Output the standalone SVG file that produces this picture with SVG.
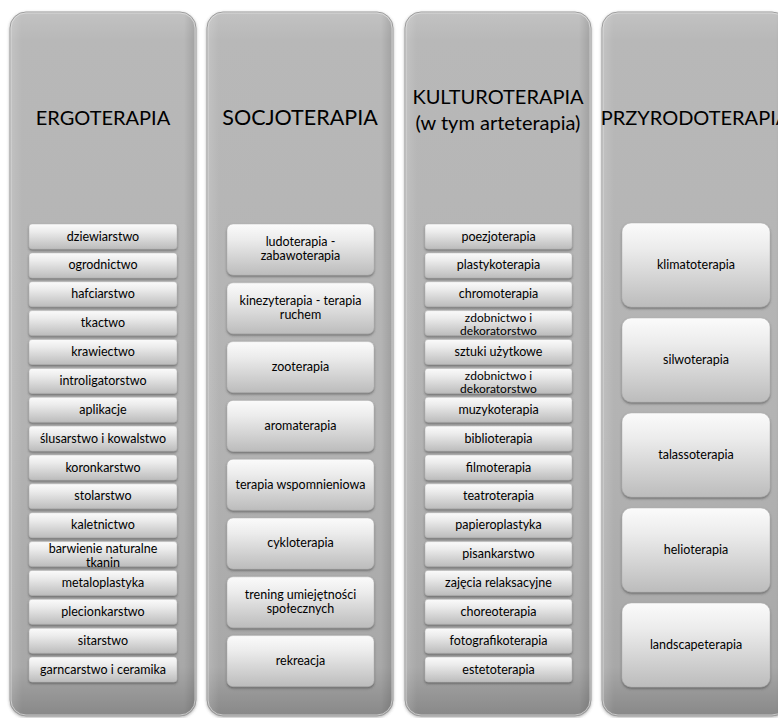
<svg xmlns="http://www.w3.org/2000/svg" width="778" height="718" viewBox="0 0 778 718">
<defs>
<linearGradient id="colGrad" x1="0" y1="0" x2="0" y2="1">
<stop offset="0" stop-color="#c2c2c2"/>
<stop offset="0.04" stop-color="#b8b8b8"/>
<stop offset="0.6" stop-color="#b3b3b3"/>
<stop offset="0.93" stop-color="#a8a8a8"/>
<stop offset="1" stop-color="#888888"/>
</linearGradient>
<linearGradient id="colSide" x1="0" y1="0" x2="1" y2="0">
<stop offset="0" stop-color="#ffffff" stop-opacity="0.15"/>
<stop offset="0.06" stop-color="#ffffff" stop-opacity="0"/>
<stop offset="0.94" stop-color="#000000" stop-opacity="0"/>
<stop offset="1" stop-color="#000000" stop-opacity="0.12"/>
</linearGradient>
<linearGradient id="boxGrad" x1="0" y1="0" x2="0" y2="1">
<stop offset="0" stop-color="#fbfbfb"/>
<stop offset="0.3" stop-color="#ececec"/>
<stop offset="1" stop-color="#bcbcbc"/>
</linearGradient>
<filter id="shadow" x="-10%" y="-20%" width="120%" height="150%">
<feDropShadow dx="0" dy="1.5" stdDeviation="1" flood-color="#3a3a3a" flood-opacity="0.6"/>
</filter>
<filter id="colShadow" x="-5%" y="-2%" width="110%" height="104%">
<feDropShadow dx="0" dy="1" stdDeviation="1.5" flood-color="#555555" flood-opacity="0.45"/>
</filter>
</defs>
<style>
.col{fill:url(#colGrad);stroke:#9c9c9c;stroke-width:1;filter:url(#colShadow)}
.colhl{fill:url(#colSide);stroke:#e2e2e2;stroke-opacity:0.7;stroke-width:1}
.box{fill:url(#boxGrad);stroke:#b0b0b0;stroke-width:0.5;filter:url(#shadow)}
.hdr{font-family:Lato,"Liberation Sans",sans-serif;font-size:20px;fill:#000;text-anchor:middle}
.lbl{font-family:Lato,"Liberation Sans",sans-serif;font-size:12.5px;fill:#000;text-anchor:middle}
</style>
<rect width="778" height="718" fill="#ffffff"/>

<g id="col-ergoterapia">
<rect class="col" x="10" y="12" width="186" height="704" rx="16"/>
<rect class="colhl" x="11" y="13" width="184" height="702" rx="15"/>
<text class="hdr" x="103" y="125">ERGOTERAPIA</text>
</g>
<g id="col-socjoterapia">
<rect class="col" x="207" y="12" width="186" height="704" rx="16"/>
<rect class="colhl" x="208" y="13" width="184" height="702" rx="15"/>
<text class="hdr" x="300" y="125" style="font-size:21.5px">SOCJOTERAPIA</text>
</g>
<g id="col-kulturoterapia">
<rect class="col" x="405" y="12" width="186" height="704" rx="16"/>
<rect class="colhl" x="406" y="13" width="184" height="702" rx="15"/>
<text class="hdr" x="498" y="104">KULTUROTERAPIA</text>
<text class="hdr" x="498" y="130">(w tym arteterapia)</text>
</g>
<g id="col-przyrodoterapia">
<rect class="col" x="602" y="12" width="186" height="704" rx="16"/>
<rect class="colhl" x="603" y="13" width="184" height="702" rx="15"/>
<text class="hdr" x="695" y="125">PRZYRODOTERAPIA</text>
</g>

<g id="connectors"/>

<g id="e1"><rect class="box" x="29" y="224" width="148" height="25" rx="3"/><text class="lbl" x="103" y="240.5">dziewiarstwo</text></g>
<g id="e2"><rect class="box" x="29" y="252.9" width="148" height="25" rx="3"/><text class="lbl" x="103" y="269.4">ogrodnictwo</text></g>
<g id="e3"><rect class="box" x="29" y="281.7" width="148" height="25" rx="3"/><text class="lbl" x="103" y="298.2">hafciarstwo</text></g>
<g id="e4"><rect class="box" x="29" y="310.6" width="148" height="25" rx="3"/><text class="lbl" x="103" y="327.1">tkactwo</text></g>
<g id="e5"><rect class="box" x="29" y="339.5" width="148" height="25" rx="3"/><text class="lbl" x="103" y="356">krawiectwo</text></g>
<g id="e6"><rect class="box" x="29" y="368.4" width="148" height="25" rx="3"/><text class="lbl" x="103" y="384.9">introligatorstwo</text></g>
<g id="e7"><rect class="box" x="29" y="397.2" width="148" height="25" rx="3"/><text class="lbl" x="103" y="413.7">aplikacje</text></g>
<g id="e8"><rect class="box" x="29" y="426.1" width="148" height="25" rx="3"/><text class="lbl" x="103" y="442.6">ślusarstwo i kowalstwo</text></g>
<g id="e9"><rect class="box" x="29" y="455" width="148" height="25" rx="3"/><text class="lbl" x="103" y="471.5">koronkarstwo</text></g>
<g id="e10"><rect class="box" x="29" y="483.8" width="148" height="25" rx="3"/><text class="lbl" x="103" y="500.3">stolarstwo</text></g>
<g id="e11"><rect class="box" x="29" y="512.7" width="148" height="25" rx="3"/><text class="lbl" x="103" y="529.2">kaletnictwo</text></g>
<g id="e12"><rect class="box" x="29" y="541.6" width="148" height="25" rx="3"/><text class="lbl" x="103" y="552.5">barwienie naturalne</text><text class="lbl" x="103" y="566.5">tkanin</text></g>
<g id="e13"><rect class="box" x="29" y="570.4" width="148" height="25" rx="3"/><text class="lbl" x="103" y="586.9">metaloplastyka</text></g>
<g id="e14"><rect class="box" x="29" y="599.3" width="148" height="25" rx="3"/><text class="lbl" x="103" y="615.8">plecionkarstwo</text></g>
<g id="e15"><rect class="box" x="29" y="628.2" width="148" height="25" rx="3"/><text class="lbl" x="103" y="644.7">sitarstwo</text></g>
<g id="e16"><rect class="box" x="29" y="657" width="148" height="25" rx="3"/><text class="lbl" x="103" y="673.5">garncarstwo i ceramika</text></g>

<g id="s1"><rect class="box" x="227" y="224" width="147" height="51" rx="6"/><text class="lbl" x="300.5" y="246">ludoterapia -</text><text class="lbl" x="300.5" y="260">zabawoterapia</text></g>
<g id="s2"><rect class="box" x="227" y="282.8" width="147" height="51" rx="6"/><text class="lbl" x="300.5" y="304.8">kinezyterapia - terapia</text><text class="lbl" x="300.5" y="318.8">ruchem</text></g>
<g id="s3"><rect class="box" x="227" y="341.6" width="147" height="51" rx="6"/><text class="lbl" x="300.5" y="371">zooterapia</text></g>
<g id="s4"><rect class="box" x="227" y="400.4" width="147" height="51" rx="6"/><text class="lbl" x="300.5" y="429.8">aromaterapia</text></g>
<g id="s5"><rect class="box" x="227" y="459.2" width="147" height="51" rx="6"/><text class="lbl" x="300.5" y="488.6">terapia wspomnieniowa</text></g>
<g id="s6"><rect class="box" x="227" y="518" width="147" height="51" rx="6"/><text class="lbl" x="300.5" y="547.4">cykloterapia</text></g>
<g id="s7"><rect class="box" x="227" y="576.8" width="147" height="51" rx="6"/><text class="lbl" x="300.5" y="598.8">trening umiejętności</text><text class="lbl" x="300.5" y="612.8">społecznych</text></g>
<g id="s8"><rect class="box" x="227" y="635.6" width="147" height="51" rx="6"/><text class="lbl" x="300.5" y="665">rekreacja</text></g>

<g id="k1"><rect class="box" x="425" y="224" width="147" height="25" rx="3"/><text class="lbl" x="498.5" y="240.5">poezjoterapia</text></g>
<g id="k2"><rect class="box" x="425" y="252.9" width="147" height="25" rx="3"/><text class="lbl" x="498.5" y="269.4">plastykoterapia</text></g>
<g id="k3"><rect class="box" x="425" y="281.7" width="147" height="25" rx="3"/><text class="lbl" x="498.5" y="298.2">chromoterapia</text></g>
<g id="k4"><rect class="box" x="425" y="310.6" width="147" height="25" rx="3"/><text class="lbl" x="498.5" y="322" style="font-size:12px">zdobnictwo i</text><text class="lbl" x="498.5" y="335.3" style="font-size:12px">dekoratorstwo</text></g>
<g id="k5"><rect class="box" x="425" y="339.5" width="147" height="25" rx="3"/><text class="lbl" x="498.5" y="356">sztuki użytkowe</text></g>
<g id="k6"><rect class="box" x="425" y="368.4" width="147" height="25" rx="3"/><text class="lbl" x="498.5" y="379.8" style="font-size:12px">zdobnictwo i</text><text class="lbl" x="498.5" y="393.1" style="font-size:12px">dekoratorstwo</text></g>
<g id="k7"><rect class="box" x="425" y="397.2" width="147" height="25" rx="3"/><text class="lbl" x="498.5" y="413.7">muzykoterapia</text></g>
<g id="k8"><rect class="box" x="425" y="426.1" width="147" height="25" rx="3"/><text class="lbl" x="498.5" y="442.6">biblioterapia</text></g>
<g id="k9"><rect class="box" x="425" y="455" width="147" height="25" rx="3"/><text class="lbl" x="498.5" y="471.5">filmoterapia</text></g>
<g id="k10"><rect class="box" x="425" y="483.8" width="147" height="25" rx="3"/><text class="lbl" x="498.5" y="500.3">teatroterapia</text></g>
<g id="k11"><rect class="box" x="425" y="512.7" width="147" height="25" rx="3"/><text class="lbl" x="498.5" y="529.2">papieroplastyka</text></g>
<g id="k12"><rect class="box" x="425" y="541.6" width="147" height="25" rx="3"/><text class="lbl" x="498.5" y="558.1">pisankarstwo</text></g>
<g id="k13"><rect class="box" x="425" y="570.4" width="147" height="25" rx="3"/><text class="lbl" x="498.5" y="586.9">zajęcia relaksacyjne</text></g>
<g id="k14"><rect class="box" x="425" y="599.3" width="147" height="25" rx="3"/><text class="lbl" x="498.5" y="615.8">choreoterapia</text></g>
<g id="k15"><rect class="box" x="425" y="628.2" width="147" height="25" rx="3"/><text class="lbl" x="498.5" y="644.7">fotografikoterapia</text></g>
<g id="k16"><rect class="box" x="425" y="657" width="147" height="25" rx="3"/><text class="lbl" x="498.5" y="673.5">estetoterapia</text></g>

<g id="p1"><rect class="box" x="622" y="223" width="148" height="84" rx="9"/><text class="lbl" x="696" y="269">klimatoterapia</text></g>
<g id="p2"><rect class="box" x="622" y="318" width="148" height="84" rx="9"/><text class="lbl" x="696" y="364">silwoterapia</text></g>
<g id="p3"><rect class="box" x="622" y="413" width="148" height="84" rx="9"/><text class="lbl" x="696" y="459">talassoterapia</text></g>
<g id="p4"><rect class="box" x="622" y="508" width="148" height="84" rx="9"/><text class="lbl" x="696" y="554">helioterapia</text></g>
<g id="p5"><rect class="box" x="622" y="603" width="148" height="84" rx="9"/><text class="lbl" x="696" y="649">landscapeterapia</text></g>
</svg>
